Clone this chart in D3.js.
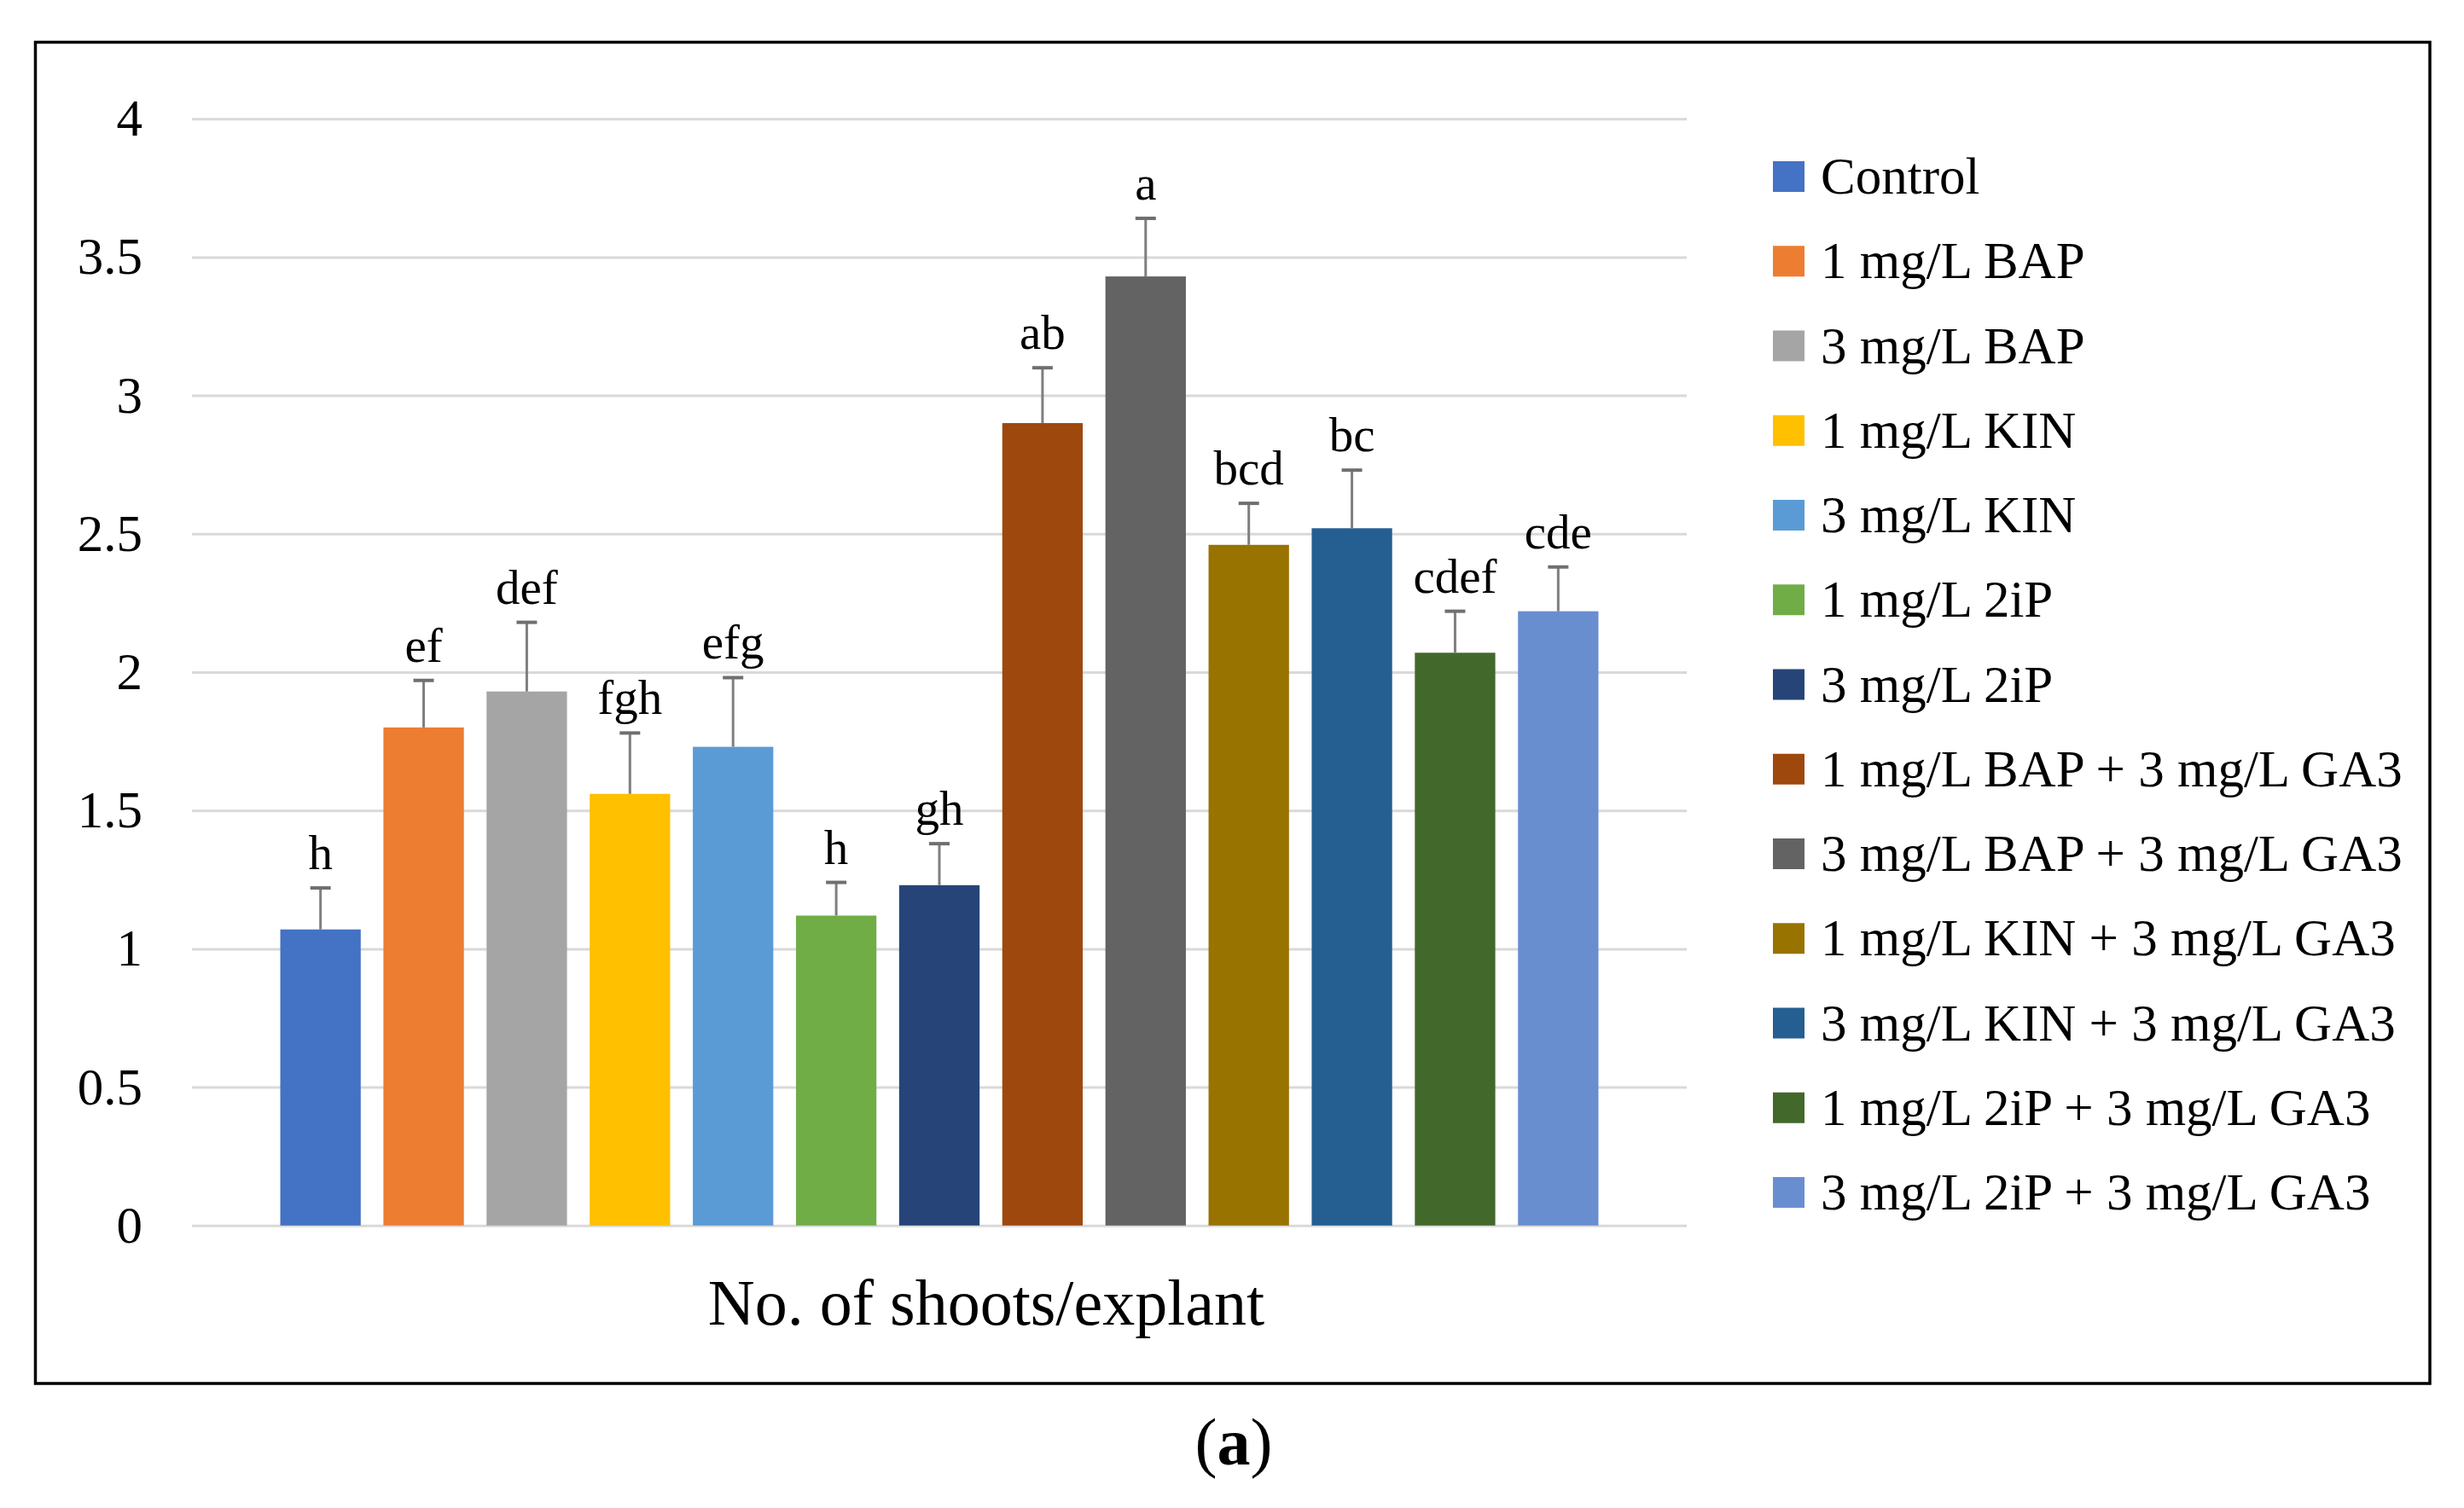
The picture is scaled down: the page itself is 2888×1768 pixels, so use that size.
<!DOCTYPE html>
<html>
<head>
<meta charset="utf-8">
<script src="https://cdn.jsdelivr.net/npm/d3@7"></script>
<style>
  html, body { margin: 0; padding: 0; background: #fff; }
  text { font-family: "Liberation Serif", "Times New Roman", serif; fill: #000; }
</style>
</head>
<body>
<div id="chart"></div>
<script>
// chart data
var category = "No. of shoots/explant";
var series = ["Control", "1 mg/L BAP", "3 mg/L BAP", "1 mg/L KIN", "3 mg/L KIN",
  "1 mg/L 2iP", "3 mg/L 2iP", "1 mg/L BAP + 3 mg/L GA3", "3 mg/L BAP + 3 mg/L GA3",
  "1 mg/L KIN + 3 mg/L GA3", "3 mg/L KIN + 3 mg/L GA3", "1 mg/L 2iP + 3 mg/L GA3",
  "3 mg/L 2iP + 3 mg/L GA3"];
var means = [1.07, 1.80, 1.93, 1.56, 1.73, 1.12, 1.23, 2.90, 3.43, 2.46, 2.52, 2.07, 2.22];
var errors = [0.15, 0.17, 0.25, 0.22, 0.25, 0.12, 0.15, 0.20, 0.21, 0.15, 0.21, 0.15, 0.16];
var letters = ["h", "ef", "def", "fgh", "efg", "h", "gh", "ab", "a", "bcd", "bc", "cdef", "cde"];
var colors = ["#4472C4", "#ED7D31", "#A5A5A5", "#FFC000", "#5B9BD5", "#70AD47", "#264478",
  "#9E480E", "#636363", "#997300", "#255E91", "#43682B", "#698ED0"];
var yTicks = [0, 0.5, 1, 1.5, 2, 2.5, 3, 3.5, 4];

var width = 2888, height = 1768;
var plot = { left: 225, right: 1977, top: 139.2, bottom: 1436.8 };

var svg = d3.select("#chart").append("svg")
  .attr("width", width)
  .attr("height", height);

svg.append("rect")
  .attr("width", width).attr("height", height)
  .attr("fill", "#fff");

// outer frame
svg.append("rect")
  .attr("x", 41.5).attr("y", 49.5)
  .attr("width", 2848 - 41.5).attr("height", 1622 - 49.5)
  .attr("fill", "none")
  .attr("stroke", "#000")
  .attr("stroke-width", 3.5);

var y = d3.scaleLinear().domain([0, 4]).range([plot.bottom, plot.top]);

var x0 = d3.scaleBand().domain([category])
  .range([plot.left, plot.right])
  .paddingInner(0).paddingOuter(0.0574);

var x = d3.scaleBand().domain(series)
  .range([x0(category), x0(category) + x0.bandwidth()])
  .paddingInner(0.22).paddingOuter(0.11);

// gridlines + tick labels
var yAxis = d3.axisLeft(y)
  .tickValues(yTicks)
  .tickSize(-(plot.right - plot.left))
  .tickPadding(58)
  .tickFormat(d3.format("~g"));

var ga = svg.append("g")
  .attr("transform", "translate(" + plot.left + ",0)")
  .call(yAxis);
ga.select(".domain").remove();
ga.selectAll(".tick line")
  .attr("stroke", "#d9d9d9")
  .attr("stroke-width", 3);
ga.selectAll(".tick text")
  .attr("font-size", 61)
  .attr("font-family", "Liberation Serif, serif")
  .attr("fill", "#000")
  .attr("dy", "0.32em");

// bars
var rows = series.map(function(s, i) {
  return { name: s, v: means[i], e: errors[i], lab: letters[i], c: colors[i] };
});

svg.selectAll("rect.bar").data(rows)
  .enter().append("rect")
  .attr("class", "bar")
  .attr("x", function(d) { return x(d.name); })
  .attr("width", x.bandwidth())
  .attr("y", function(d) { return y(d.v); })
  .attr("height", function(d) { return y(0) - y(d.v); })
  .attr("fill", function(d) { return d.c; });

// error bars (plus only)
var eb = svg.selectAll("g.err").data(rows)
  .enter().append("g")
  .attr("class", "err");

eb.append("line")
  .attr("x1", function(d) { return x(d.name) + x.bandwidth() / 2; })
  .attr("x2", function(d) { return x(d.name) + x.bandwidth() / 2; })
  .attr("y1", function(d) { return y(d.v); })
  .attr("y2", function(d) { return y(d.v + d.e); })
  .attr("stroke", "#7f7f7f")
  .attr("stroke-width", 3);

eb.append("line")
  .attr("x1", function(d) { return x(d.name) + x.bandwidth() / 2 - 12; })
  .attr("x2", function(d) { return x(d.name) + x.bandwidth() / 2 + 12; })
  .attr("y1", function(d) { return y(d.v + d.e); })
  .attr("y2", function(d) { return y(d.v + d.e); })
  .attr("stroke", "#6f6f6f")
  .attr("stroke-width", 4);

// significance letters
svg.selectAll("text.lab").data(rows)
  .enter().append("text")
  .attr("class", "lab")
  .attr("x", function(d) { return x(d.name) + x.bandwidth() / 2; })
  .attr("y", function(d) { return y(d.v + d.e) - 22; })
  .attr("text-anchor", "middle")
  .attr("font-size", 57)
  .text(function(d) { return d.lab; });

// category axis title
svg.append("text")
  .attr("x", 1156)
  .attr("y", 1553)
  .attr("text-anchor", "middle")
  .attr("font-size", 76)
  .text(category);

// legend
var legY = d3.scalePoint().domain(series).range([207, 1398]);
var leg = svg.selectAll("g.leg").data(rows)
  .enter().append("g")
  .attr("class", "leg")
  .attr("transform", function(d) { return "translate(2078," + legY(d.name) + ")"; });

leg.append("rect")
  .attr("x", 0).attr("y", -18)
  .attr("width", 37).attr("height", 36)
  .attr("fill", function(d) { return d.c; });

leg.append("text")
  .attr("x", 56)
  .attr("y", 0)
  .attr("dy", "0.33em")
  .attr("font-size", 61)
  .text(function(d) { return d.name; });

// panel caption
svg.append("text")
  .attr("x", 1446)
  .attr("y", 1717)
  .attr("text-anchor", "middle")
  .attr("font-size", 78)
  .text("(")
  .append("tspan").attr("font-weight", "bold").text("a")
  .select(function() { return this.parentNode; })
  .append("tspan").text(")");
</script>
</body>
</html>
